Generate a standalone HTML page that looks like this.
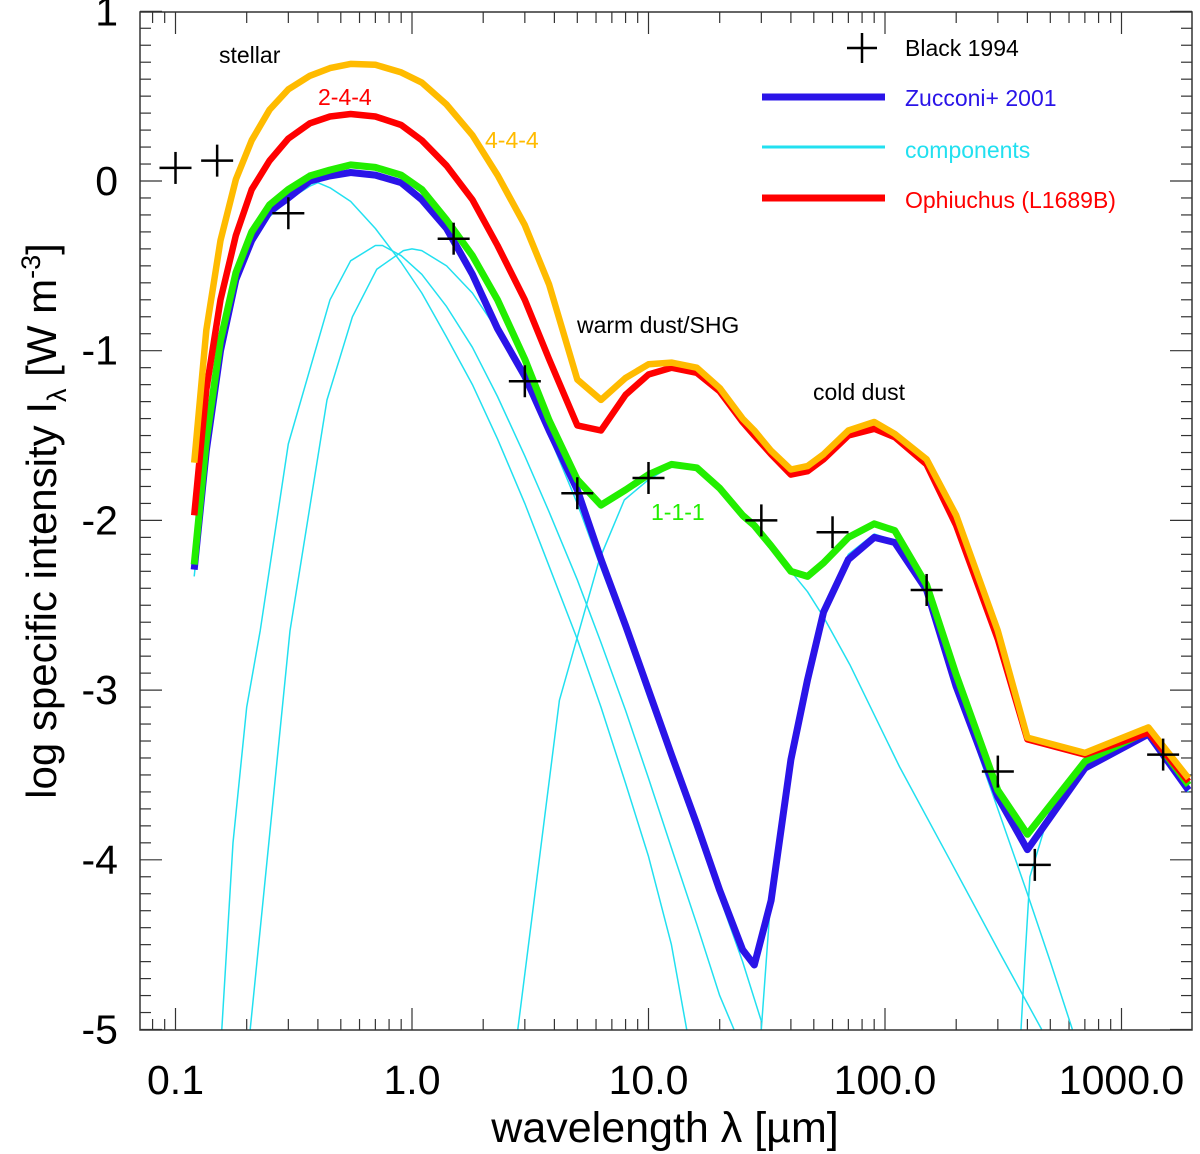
<!DOCTYPE html>
<html><head><meta charset="utf-8">
<style>
html,body{margin:0;padding:0;background:#fff;}
svg{display:block;font-family:"Liberation Sans",Arial,sans-serif;}
</style></head>
<body>
<svg id="chart" width="1200" height="1154" viewBox="0 0 1200 1154" xmlns="http://www.w3.org/2000/svg">
<defs><clipPath id="plotclip"><rect x="140" y="12" width="1052" height="1018"/></clipPath></defs>
<rect x="0" y="0" width="1200" height="1154" fill="#fff"/>
<g id="axes"></g>
<g id="series" clip-path="url(#plotclip)"></g>
<g id="points"></g>
<rect x="140" y="12" width="1052" height="1018" fill="none" stroke="#333" stroke-width="1.5"/>
<text x="219" y="63" font-size="23" fill="#000">stellar</text>
<text x="318" y="105" font-size="23" fill="#ff0000">2-4-4</text>
<text x="485" y="148" font-size="23" fill="#ffbb00">4-4-4</text>
<text x="577" y="333" font-size="23" fill="#000">warm dust/SHG</text>
<text x="813" y="400" font-size="23" fill="#000">cold dust</text>
<text x="651" y="520" font-size="23" fill="#22ee00">1-1-1</text>
<g>
  <line x1="847" y1="48" x2="877" y2="48" stroke="#000" stroke-width="2.5"/>
  <line x1="862" y1="33" x2="862" y2="63" stroke="#000" stroke-width="2.5"/>
  <text x="905" y="56" font-size="23" fill="#000">Black 1994</text>
  <line x1="762" y1="97" x2="885" y2="97" stroke="#2a14e8" stroke-width="7"/>
  <text x="905" y="106" font-size="23" fill="#2a14e8">Zucconi+ 2001</text>
  <line x1="762" y1="147" x2="885" y2="147" stroke="#22e0f0" stroke-width="3"/>
  <text x="905" y="158" font-size="23" fill="#22e0f0">components</text>
  <line x1="762" y1="198" x2="885" y2="198" stroke="#ff0000" stroke-width="7"/>
  <text x="905" y="208" font-size="23" fill="#ff0000">Ophiuchus (L1689B)</text>
</g>
<text x="665" y="1142" font-size="43" text-anchor="middle" fill="#000">wavelength λ [µm]</text>
<text transform="translate(56,521) rotate(-90)" font-size="42" text-anchor="middle" fill="#000">log specific intensity I<tspan font-size="27" dy="10">λ</tspan><tspan dy="-10"> [W m</tspan><tspan font-size="27" dy="-16">-3</tspan><tspan dy="16">]</tspan></text>
</svg>
<script>
const lamGrid = [0.12,0.135,0.155,0.18,0.21,0.25,0.3,0.37,0.45,0.55,0.7,0.9,1.1,1.4,1.8,2.3,3,3.8,5,6.3,8,10,12.5,16,20,25,28,33,40,47,55,70,90,110,150,200,300,400,700,1300,1920];
const zucconi = [-2.29,-1.59,-1.0,-0.58,-0.35,-0.18,-0.1,0.0,0.03,0.05,0.035,-0.01,-0.11,-0.28,-0.55,-0.87,-1.15,-1.47,-1.82,-2.23,-2.62,-3.0,-3.38,-3.79,-4.18,-4.53,-4.62,-4.24,-3.41,-2.94,-2.54,-2.23,-2.10,-2.13,-2.41,-2.98,-3.63,-3.94,-3.46,-3.26,-3.59];
const model111 = [-2.26,-1.53,-0.94,-0.54,-0.30,-0.14,-0.05,0.03,0.065,0.095,0.08,0.035,-0.05,-0.23,-0.44,-0.70,-1.05,-1.41,-1.76,-1.91,-1.82,-1.73,-1.67,-1.69,-1.81,-1.97,-2.03,-2.15,-2.30,-2.33,-2.25,-2.10,-2.02,-2.06,-2.38,-2.91,-3.59,-3.85,-3.42,-3.24,-3.56];
const model244 = [-1.97,-1.23,-0.70,-0.32,-0.05,0.12,0.25,0.34,0.38,0.395,0.38,0.33,0.24,0.09,-0.11,-0.38,-0.70,-1.05,-1.44,-1.47,-1.26,-1.14,-1.10,-1.13,-1.24,-1.42,-1.50,-1.61,-1.73,-1.71,-1.64,-1.50,-1.46,-1.51,-1.67,-2.03,-2.70,-3.29,-3.38,-3.25,-3.54];
const model444 = [-1.66,-0.88,-0.35,0.01,0.24,0.42,0.54,0.62,0.665,0.69,0.685,0.64,0.58,0.45,0.27,0.035,-0.26,-0.61,-1.17,-1.29,-1.16,-1.08,-1.07,-1.10,-1.22,-1.40,-1.47,-1.59,-1.70,-1.68,-1.61,-1.47,-1.42,-1.49,-1.64,-1.97,-2.65,-3.28,-3.37,-3.22,-3.52];

const comp1Lam = [0.12,0.135,0.155,0.18,0.21,0.25,0.3,0.37,0.4,0.45,0.55,0.7,0.9,1.1,1.4,1.8,2.3,3,3.8,5,6.3,8,10,12.5,14.5];
const comp1Val = [-2.33,-1.63,-1.04,-0.62,-0.38,-0.21,-0.11,-0.03,-0.01,-0.04,-0.12,-0.28,-0.48,-0.66,-0.92,-1.2,-1.52,-1.9,-2.27,-2.7,-3.1,-3.55,-3.98,-4.5,-5.0];
const comp2Lam = [0.157,0.175,0.2,0.228,0.3,0.45,0.55,0.7,0.75,0.9,1.1,1.4,1.8,2.3,3,3.8,5,6.3,8,10,12.5,16,20,23];
const comp2Val = [-5.0,-3.9,-3.1,-2.65,-1.55,-0.70,-0.47,-0.38,-0.38,-0.44,-0.55,-0.74,-0.98,-1.27,-1.62,-1.95,-2.35,-2.72,-3.12,-3.52,-3.93,-4.38,-4.8,-5.0];
const comp3Lam = [0.207,0.305,0.437,0.56,0.71,0.92,1.0,1.1,1.4,1.8,2.3,3,3.8,5,6.3,8,10,12.5,16,20,25,30];
const comp3Val = [-5.0,-2.65,-1.29,-0.80,-0.52,-0.41,-0.40,-0.41,-0.50,-0.66,-0.88,-1.17,-1.5,-1.9,-2.28,-2.66,-3.05,-3.42,-3.84,-4.22,-4.6,-4.95];
const warmLam = [2.8,4.2,6.2,7.9,10,12.5,16,20,25,28,33,40,47,55,71,115,188,306,460];
const warmVal = [-5.0,-3.06,-2.23,-1.88,-1.76,-1.68,-1.70,-1.82,-1.98,-2.04,-2.16,-2.3,-2.42,-2.57,-2.85,-3.45,-4.0,-4.55,-5.0];
const coldLam = [30,33,40,47,55,70,90,110,150,200,300,400,500,620];
const coldVal = [-5.0,-4.2,-3.38,-2.92,-2.52,-2.2,-2.08,-2.12,-2.42,-3.0,-3.7,-4.2,-4.6,-5.0];
const vcoldLam = [376,390,410,500,700,1300,1920];
const vcoldVal = [-5.0,-4.6,-4.1,-3.7,-3.47,-3.27,-3.6];

const blackLam = [0.1,0.15,0.3,1.5,3,5,10,30,60,150,300,430,1500];
const blackVal = [0.077,0.12,-0.19,-0.34,-1.18,-1.84,-1.75,-2.0,-2.07,-2.41,-3.48,-4.03,-3.38];

const xTickVals = [0.1,1,10,100,1000];
const xTickLabels = ["0.1","1.0","10.0","100.0","1000.0"];
const yTickVals = [1,0,-1,-2,-3,-4,-5];
const yTickLabels = ["1","0","-1","-2","-3","-4","-5"];

const NS = "http://www.w3.org/2000/svg";
const X0 = 412, DEC = 236.5, Y0 = 181, UNIT = 169.7;
function xs(l){ return X0 + DEC*Math.log10(l); }
function ys(v){ return Y0 - UNIT*v; }
function mk(tag, attrs, parent){
  const e = document.createElementNS(NS, tag);
  for (const k in attrs) e.setAttribute(k, attrs[k]);
  parent.appendChild(e);
  return e;
}
const axes = document.getElementById('axes');
const series = document.getElementById('series');
const pts = document.getElementById('points');
const L = 140, R = 1192, T = 12, B = 1030;

for (let d = -2; d <= 3; d++) {
  for (let m = 1; m <= 9; m++) {
    const l = m*Math.pow(10,d);
    const x = xs(l);
    if (x < L || x > R) continue;
    const len = m === 1 ? 22 : 11;
    const t1 = mk('line', {x1:x, y1:B, x2:x, y2:B-len, stroke:'#333', 'stroke-width':1.2}, axes);
    
    
    const t2 = mk('line', {x1:x, y1:T, x2:x, y2:T+len, stroke:'#333', 'stroke-width':1.2}, axes);
    
    
  }
}
xTickVals.forEach((v,i) => {
  const t = mk('text', {x:xs(v), y:1094, 'font-size':41, 'text-anchor':'middle', fill:'#000'}, axes);
  t.textContent = xTickLabels[i];
  
  
});
for (let k = -50; k <= 10; k++) {
  const v = k/10, y = ys(v);
  const len = (k % 10 === 0) ? 22 : 11;
  const a = mk('line', {x1:L, y1:y, x2:L+len, y2:y, stroke:'#333', 'stroke-width':1.2}, axes);
  
  
  const b = mk('line', {x1:R, y1:y, x2:R-len, y2:y, stroke:'#333', 'stroke-width':1.2}, axes);
  
  
}
yTickVals.forEach((v,i) => {
  const t = mk('text', {x:118, y:ys(v)+14, 'font-size':41, 'text-anchor':'end', fill:'#000'}, axes);
  t.textContent = yTickLabels[i];
  
  
});

function line(lams, vals, color, w, name){
  const d = lams.map((l,i) => (i ? 'L' : 'M') + xs(l).toFixed(1) + ',' + ys(vals[i]).toFixed(1)).join(' ');
  const p = mk('path', {d:d, fill:'none', stroke:color, 'stroke-width':w, 'stroke-linejoin':'round'}, series);
  
  
}
const CY = '#22e0f0';
line(comp1Lam, comp1Val, CY, 1.5, 'component-stellar-1');
line(comp2Lam, comp2Val, CY, 1.5, 'component-stellar-2');
line(comp3Lam, comp3Val, CY, 1.5, 'component-stellar-3');
line(warmLam, warmVal, CY, 1.5, 'component-warm-dust');
line(coldLam, coldVal, CY, 1.5, 'component-cold-dust');
line(vcoldLam, vcoldVal, CY, 1.5, 'component-very-cold-dust');
line(lamGrid, zucconi, '#2a14e8', 7, 'zucconi-2001-line');
line(lamGrid, model111, '#22ee00', 7, 'model-1-1-1-line');
line(lamGrid, model244, '#ff0000', 6.5, 'model-2-4-4-line');
line(lamGrid, model444, '#ffbb00', 6.5, 'model-4-4-4-line');

blackLam.forEach((l,i) => {
  const x = xs(l), y = ys(blackVal[i]);
  const g = mk('g', {}, pts);
  
  
  mk('line', {x1:x-16, y1:y, x2:x+16, y2:y, stroke:'#000', 'stroke-width':2.5}, g);
  mk('line', {x1:x, y1:y-16, x2:x, y2:y+16, stroke:'#000', 'stroke-width':2.5}, g);
});
</script>
</body></html>
